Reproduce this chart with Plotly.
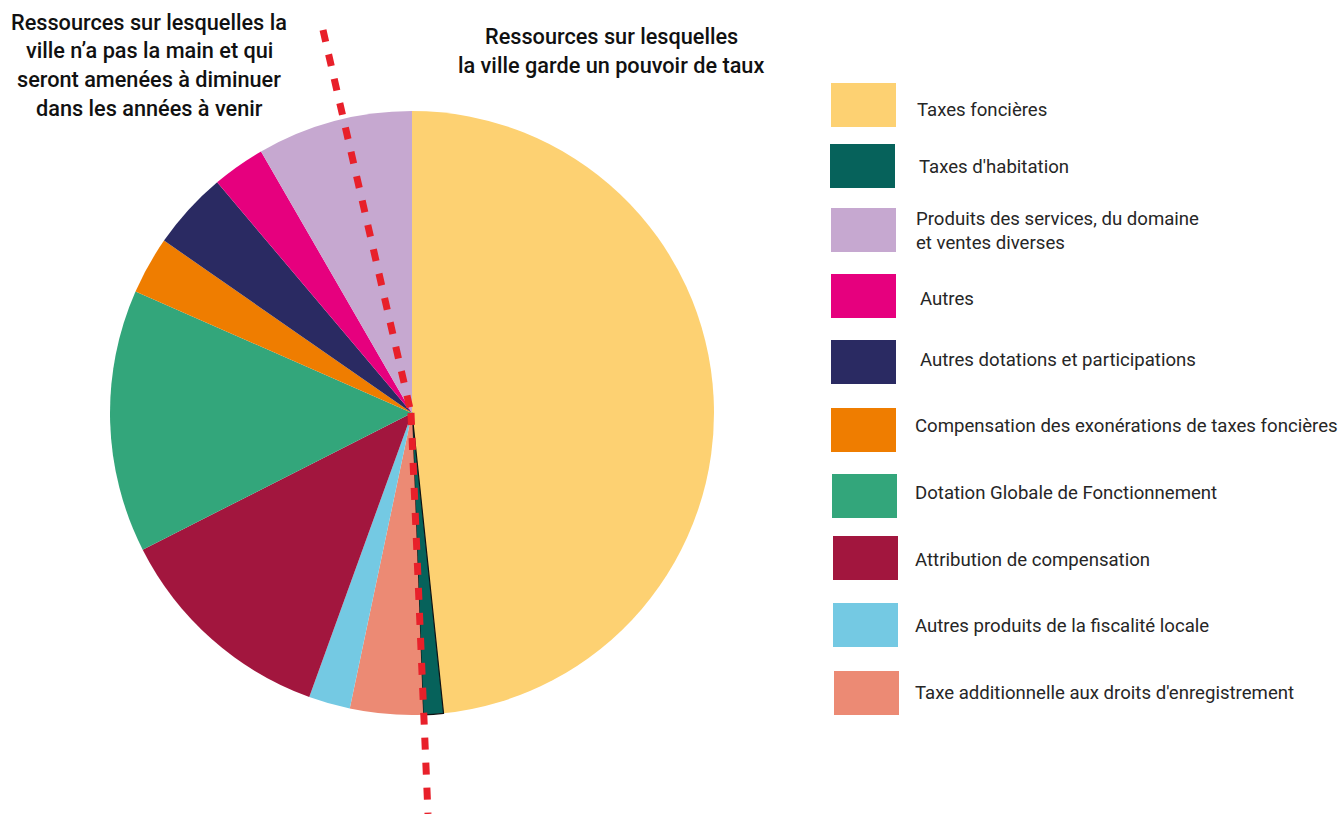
import plotly.graph_objects as go

# ---- data (slice order, clockwise from 12 o'clock) ----
labels = [
    "Taxes foncières",
    "Taxes d'habitation",
    "Taxe additionnelle aux droits d'enregistrement",
    "Autres produits de la fiscalité locale",
    "Attribution de compensation",
    "Dotation Globale de Fonctionnement",
    "Compensation des exonérations de taxes foncières",
    "Autres dotations et participations",
    "Autres",
    "Produits des services, du domaine et ventes diverses",
]
values = [48.33, 1.08, 3.89, 2.22, 12.0, 14.06, 3.08, 4.17, 2.83, 8.33]
colors = ["#FDD172", "#06625B", "#EC8A74", "#74C9E3", "#A2163E",
          "#33A67B", "#EF7D00", "#2A2A62", "#E6007E", "#C6A8D0"]
outline = [0, 1.2, 0, 0, 0, 0, 0, 0, 0, 0]

# legend order as shown in the reference
legend_labels = [
    "Taxes foncières",
    "Taxes d'habitation",
    "Produits des services, du domaine<br>et ventes diverses",
    "Autres",
    "Autres dotations et participations",
    "Compensation des exonérations de taxes foncières",
    "Dotation Globale de Fonctionnement",
    "Attribution de compensation",
    "Autres produits de la fiscalité locale",
    "Taxe additionnelle aux droits d'enregistrement",
]
legend_colors = ["#FDD172", "#06625B", "#C6A8D0", "#E6007E", "#2A2A62",
                 "#EF7D00", "#33A67B", "#A2163E", "#74C9E3", "#EC8A74"]

title_left = ["Ressources sur lesquelles la", "ville n’a pas la main et qui",
              "seront amenées à diminuer", "dans les années à venir"]
title_right = ["Ressources sur lesquelles", "la ville garde un pouvoir de taux"]

# ---- layout constants (pixels) ----
W, H = 1341, 814
CX, CY, R = 412, 413, 302
FONT = "Roboto"

fig = go.Figure()

fig.add_trace(go.Pie(
    labels=labels, values=values, sort=False, direction="clockwise", rotation=0,
    marker=dict(colors=colors, line=dict(color="#111111", width=outline)),
    textinfo="none", showlegend=False, hoverinfo="label+percent",
    domain=dict(x=[(CX - R) / W, (CX + R) / W], y=[1 - (CY + R) / H, 1 - (CY - R) / H]),
))

# invisible pixel-space axes for decorations
fig.add_trace(go.Scatter(x=[0, W], y=[0, H], mode="markers", marker=dict(opacity=0),
                         showlegend=False, hoverinfo="skip"))

shapes = []
annotations = []

# red dashed separator (bent at the centre)
dash_line = dict(color="#E8202A", width=7, dash="12px,13px")
shapes.append(dict(type="line", xref="x", yref="y", x0=323, y0=30, x1=CX - 1, y1=CY, line=dash_line))
shapes.append(dict(type="line", xref="x", yref="y", x0=CX - 1, y0=CY, x1=428, y1=814, line=dash_line))

# legend
row_y = [105, 166, 230, 296, 362, 430, 496, 558, 625, 693]
text_y = [110, 167, 230.5, 299, 360, 426, 493, 560, 626, 693]
sw_x = [831, 830, 831, 831, 831, 831, 832, 833, 833, 834]
tx_x = [915, 917, 914, 918, 918, 913, 913, 913, 913, 913]
for i, (lab, col) in enumerate(zip(legend_labels, legend_colors)):
    shapes.append(dict(type="rect", xref="x", yref="y", x0=sw_x[i], x1=sw_x[i] + 65,
                       y0=row_y[i] - 22, y1=row_y[i] + 22, fillcolor=col, line=dict(width=0)))
    annotations.append(dict(x=tx_x[i], y=text_y[i], xref="x", yref="y",
                            text=lab, showarrow=False, xanchor="left", yanchor="middle",
                            align="left", font=dict(family=FONT, size=18.6, color="#262626")))

# titles
for j, t in enumerate(title_left):
    annotations.append(dict(x=149, y=22 + j * 28.7, xref="x", yref="y", text=t, showarrow=False,
                            xanchor="center", yanchor="middle",
                            font=dict(family=FONT, size=21.7, color="#111111", weight=500)))
for j, t in enumerate(title_right):
    annotations.append(dict(x=611, y=36 + j * 29, xref="x", yref="y", text=t, showarrow=False,
                            xanchor="center", yanchor="middle",
                            font=dict(family=FONT, size=21.7, color="#111111", weight=500)))

fig.update_layout(
    width=W, height=H, margin=dict(l=0, r=0, t=0, b=0),
    paper_bgcolor="white", plot_bgcolor="rgba(0,0,0,0)",
    xaxis=dict(range=[0, W], visible=False, domain=[0, 1], fixedrange=True),
    yaxis=dict(range=[H, 0], visible=False, domain=[0, 1], fixedrange=True),
    shapes=shapes, annotations=annotations, showlegend=False,
)

fig.write_html("out.html", config={"displayModeBar": False},
               post_script="document.body.style.margin='0px';document.body.style.overflow='hidden';")
